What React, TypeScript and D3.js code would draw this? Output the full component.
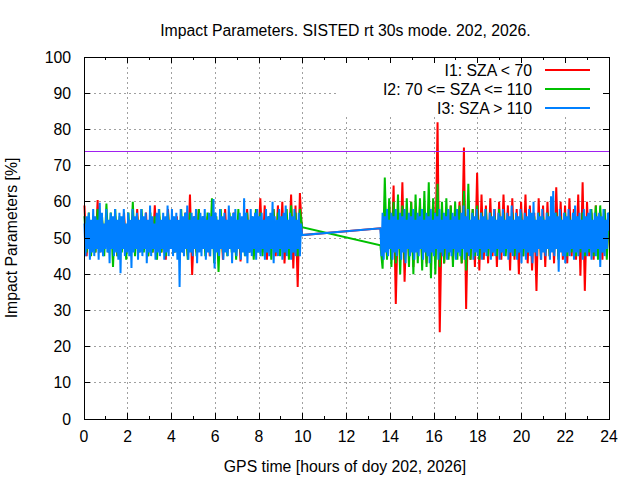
import React from "react";
import * as d3 from "d3";

// ---- Data ----
const TITLE = "Impact Parameters. SISTED rt 30s mode. 202, 2026.";
const X_LABEL = "GPS time [hours of doy 202, 2026]";
const Y_LABEL = "Impact Parameters [%]";
const X_TICKS = [0, 2, 4, 6, 8, 10, 12, 14, 16, 18, 20, 22, 24];
const Y_TICKS = [0, 10, 20, 30, 40, 50, 60, 70, 80, 90, 100];
const THRESHOLD = 74;

// sample window of each data segment [hours]
const SEG1_SPAN = [0.02, 9.97];
const SEG2_SPAN = [13.55, 24.0];

const I1_SEG1 = [
  59, 45, 55, 47, 56, 46, 60.5, 46, 55, 47, 56, 46, 54, 47, 56, 45, 55, 47, 57, 46,
  54, 46, 56, 47, 58, 46, 55, 47, 57, 45, 55, 46, 59, 47, 56, 46, 55, 44, 58, 47,
  54, 46, 56, 47, 55, 46, 57, 45, 62, 39.8, 56, 46, 58, 47, 55, 46, 56, 45, 57, 47,
  55, 46, 56, 44, 58, 46, 55, 47, 57, 46, 56, 43.5, 55, 47, 58, 46, 56, 45, 57, 47,
  61, 46, 59, 44, 56, 47, 58, 45, 59, 46, 60, 43, 55, 47, 62, 41.6, 59, 36.5, 62.4, 50.8,
];
const I2_SEG1 = [
  56, 46, 57, 45, 55, 46, 58, 47, 56, 45, 59.5, 46, 57, 42, 58, 45, 56, 46, 55, 44,
  57, 46, 60, 45, 56, 47, 58, 46, 55, 45, 57, 46, 56, 44, 58, 46, 55, 45, 57, 47,
  56, 46, 55, 45, 58, 46, 56, 44, 57, 46, 55, 45, 58, 47, 56, 45, 57, 46, 61, 43,
  56, 40.6, 58, 46, 55, 45, 57, 46, 56, 44, 58, 46, 55, 45, 57, 46, 56, 44, 58, 46,
  57, 45, 55, 46, 56, 44, 58, 46, 57, 45, 56, 46, 58, 44, 59, 46, 57, 45, 58, 53,
];
const I3_SEG1 = [
  54, 45, 56, 47, 57, 44, 55, 46, 58, 45,
  56, 47, 55, 44, 59.7, 46, 57, 45, 54, 47,
  58, 46, 55, 43, 57, 47, 56, 45, 58, 46,
  55, 44, 57, 40.3, 56, 47, 58, 45, 54, 46,
  57, 45, 55, 41.7, 58, 46, 56, 47, 57, 44,
  55, 46, 58, 45, 56, 47, 57, 43, 55, 46,
  59, 45, 56, 47, 54, 44, 57, 46, 58, 45,
  55, 47, 57, 44, 56, 46, 59, 45, 55, 47,
  58, 45, 56, 46, 57, 44, 55, 36.5, 58, 46,
  56, 45, 57, 47, 59, 44, 55, 46, 57, 45,
  56, 47, 58, 43, 55, 46, 57, 45, 56, 47,
  58, 44, 55, 46, 57, 45, 56, 47, 60.8, 41.6,
  57, 46, 55, 45, 58, 47, 56, 44, 57, 46,
  55, 45, 59, 47, 56, 43, 57, 46, 58, 45,
  55, 47, 57, 44, 56, 46, 61, 45, 57, 43,
  55, 46, 58, 45, 56, 47, 57, 44, 58, 46,
  56, 45, 57, 47, 55, 44, 58, 46, 56, 45,
  57, 47, 60, 43, 56, 46, 55, 45, 58, 47,
  56, 44, 57, 46, 59, 45, 55, 47, 57, 44,
  56, 46, 58, 45, 55, 47, 57, 45, 54, 50.8,
];

const I1_SEG2 = [
  52.7, 46, 58, 45, 60, 44, 64.5, 31.8, 57, 44, 65.4, 37.9, 58, 45, 60, 42, 57, 46, 59, 44,
  56, 43, 58, 45, 60, 44, 82, 24, 58, 43, 57, 45, 59, 44, 56, 46, 60, 43, 75, 30.4,
  60, 44, 58, 42, 68, 41, 62, 44, 59, 43, 61, 45, 58, 42, 60, 44, 62, 46, 59, 41,
  61, 44, 58, 40, 60, 45, 62, 43, 59, 41, 57, 35.4, 61, 44, 59, 42, 60, 45, 58, 43,
  64, 45, 60, 44, 59, 43, 61, 45, 58, 44, 62, 39.6, 65.4, 35.4, 60, 45, 57, 44, 59, 46,
  57, 44, 58, 46, 56,
];
const I2_SEG2 = [
  48, 41.5, 66.7, 44, 61, 42, 60, 43, 62, 40, 59, 44, 61, 42, 60, 40, 62, 43, 61, 41,
  63, 42, 65.4, 38.9, 61, 40, 65, 42, 60, 43, 61, 44, 59, 42, 60, 44, 59, 43, 63, 41,
  65, 44, 58, 45, 59, 44, 57, 46, 58, 45, 57, 46, 56, 45, 58, 46, 57, 45, 56, 46,
  57, 45, 56, 46, 57, 45, 56, 46, 57, 45, 56, 46, 57, 45, 56, 46, 57, 45, 56, 46,
  57, 44, 56, 46, 57, 45, 56, 46, 57, 45, 56, 46, 57, 45, 56, 46, 58, 45, 59, 44,
  59, 46, 58, 44, 57,
];
const I3_SEG2 = [
  52.7, 45, 57, 44, 56, 46, 58, 45, 55, 47,
  57, 44, 56, 46, 58, 45, 55, 47, 57, 44,
  56, 46, 58, 43, 55, 47, 57, 45, 56, 46,
  58, 44, 55, 46, 57, 45, 56, 47, 58, 44,
  55, 46, 57, 45, 56, 43, 58, 46, 55, 45,
  57, 47, 56, 44, 58, 46, 55, 45, 57, 47,
  56, 44, 58, 46, 55, 45, 57, 47, 56, 44,
  58, 46, 55, 45, 57, 47, 59, 44, 56, 46,
  58, 45, 55, 47, 57, 44, 56, 46, 58, 45,
  55, 47, 57, 44, 56, 46, 58, 45, 55, 47,
  57, 44, 56, 46, 58, 45, 55, 47, 57, 44,
  56, 46, 58, 45, 55, 47, 57, 44, 56, 46,
  59, 45, 55, 47, 57, 44, 56, 46, 58, 43,
  55, 47, 57, 44, 56, 46, 58, 45, 57, 43,
  60, 46, 55, 45, 57, 47, 56, 44, 58, 46,
  55, 45, 57, 47, 56, 44, 61.5, 46, 63, 45,
  57, 47, 56, 40.7, 58, 46, 55, 45, 57, 43,
  56, 46, 58, 45, 55, 47, 57, 44, 59, 46,
  56, 45, 57, 47, 55, 44, 58, 46, 56, 45,
  57, 47, 58, 44, 55, 46, 57, 45, 56, 47,
  57, 42, 56, 46, 58, 45, 55, 47, 57, 52,
];

const SERIES = [
  { name: "I1: SZA < 70", color: "#ff0000", seg1: I1_SEG1, seg2: I1_SEG2 },
  { name: "I2: 70 <= SZA <= 110", color: "#00c000", seg1: I2_SEG1, seg2: I2_SEG2 },
  { name: "I3: SZA > 110", color: "#0080ff", seg1: I3_SEG1, seg2: I3_SEG2 },
];

function toPoints(vals: number[], span: number[]): [number, number][] {
  const n = vals.length;
  return vals.map((v, i) => [span[0] + (i * (span[1] - span[0])) / (n - 1), v]);
}

const W = 640;
const H = 480;
const M = { left: 84, right: 31, top: 57, bottom: 61 };
const FONT = "'Liberation Sans', Arial, sans-serif";
const FS = 15.8;

export default function App() {
  const x = d3.scaleLinear().domain([0, 24]).range([M.left, W - M.right]);
  const y = d3.scaleLinear().domain([0, 100]).range([H - M.bottom, M.top]);
  const line = d3
    .line<[number, number]>()
    .x((d) => x(d[0]))
    .y((d) => y(d[1]));

  const x0 = M.left;
  const x1 = W - M.right;
  const y0 = H - M.bottom;
  const y1 = M.top;
  const minorX = d3.range(1, 24, 2);

  return (
    <svg
      width={W}
      height={H}
      style={{ position: "absolute", left: 0, top: 0, background: "#fff" }}
      fontFamily={FONT}
    >
      <rect x={0} y={0} width={W} height={H} fill="#fff" />
      {/* grid */}
      <g stroke="#a0a0a0" strokeWidth={1} strokeDasharray="2,3" shapeRendering="crispEdges">
        {X_TICKS.slice(1, -1).map((t) => (
          <line key={"gx" + t} x1={x(t)} x2={x(t)} y1={y0} y2={y1} />
        ))}
        {Y_TICKS.slice(1, -1).map((t) => (
          <line key={"gy" + t} x1={x0} x2={x1} y1={y(t)} y2={y(t)} />
        ))}
      </g>
      {/* opaque key box */}
      <rect x={338} y={y1} width={263} height={60} fill="#fff" />
      {/* data */}
      <g fill="none" strokeWidth={2} strokeLinejoin="miter">
        {SERIES.map((s) => (
          <path
            key={s.name}
            d={line([...toPoints(s.seg1, SEG1_SPAN), ...toPoints(s.seg2, SEG2_SPAN)]) || ""}
            stroke={s.color}
          />
        ))}
      </g>
      {/* threshold */}
      <line x1={x0} x2={x1} y1={y(THRESHOLD)} y2={y(THRESHOLD)} stroke="#a020f0" strokeWidth={1} shapeRendering="crispEdges" />
      {/* frame and ticks */}
      <g stroke="#000" strokeWidth={1} shapeRendering="crispEdges">
        <rect x={x0} y={y1} width={x1 - x0} height={y0 - y1} fill="none" />
        {X_TICKS.map((t) => (
          <g key={"tx" + t}>
            <line x1={x(t)} x2={x(t)} y1={y0} y2={y0 - 6} />
            <line x1={x(t)} x2={x(t)} y1={y1} y2={y1 + 6} />
          </g>
        ))}
        {minorX.map((t) => (
          <g key={"mx" + t}>
            <line x1={x(t)} x2={x(t)} y1={y0} y2={y0 - 3} />
            <line x1={x(t)} x2={x(t)} y1={y1} y2={y1 + 3} />
          </g>
        ))}
        {Y_TICKS.map((t) => (
          <g key={"ty" + t}>
            <line x1={x0} x2={x0 + 6} y1={y(t)} y2={y(t)} />
            <line x1={x1} x2={x1 - 6} y1={y(t)} y2={y(t)} />
          </g>
        ))}
      </g>
      {/* tick labels */}
      <g fontSize={FS} fill="#000">
        {X_TICKS.map((t) => (
          <text key={"lx" + t} x={x(t)} y={y0 + 23} textAnchor="middle">
            {t}
          </text>
        ))}
        {Y_TICKS.map((t) => (
          <text key={"ly" + t} x={x0 - 13} y={y(t) + 5.5} textAnchor="end">
            {t}
          </text>
        ))}
      </g>
      {/* titles */}
      <text x={345.5} y={36} textAnchor="middle" fontSize={FS}>
        {TITLE}
      </text>
      <text x={345} y={472} textAnchor="middle" fontSize={FS}>
        {X_LABEL}
      </text>
      <text transform={`translate(17,${(y0 + y1) / 2}) rotate(-90)`} textAnchor="middle" fontSize={FS}>
        {Y_LABEL}
      </text>
      {/* legend */}
      <g fontSize={FS}>
        {SERIES.map((s, i) => (
          <g key={"lg" + s.name}>
            <text x={532} y={75.5 + i * 19} textAnchor="end">
              {s.name}
            </text>
            <line x1={545} x2={590} y1={70 + i * 19} y2={70 + i * 19} stroke={s.color} strokeWidth={2} />
          </g>
        ))}
      </g>
    </svg>
  );
}
